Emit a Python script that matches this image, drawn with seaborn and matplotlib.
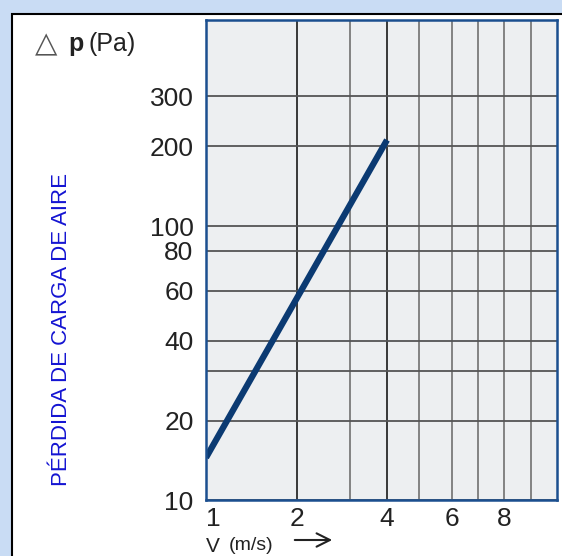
import numpy as np
import matplotlib
matplotlib.use("Agg")
import matplotlib.pyplot as plt
from matplotlib.patches import Rectangle, FancyArrowPatch
import seaborn as sns

# values
velocity = [1, 4]
pressure_drop = [14.5, 210]

x_ticks = [1, 2, 4, 6, 8]
x_minor = [3, 5, 7, 9]
y_ticks = [10, 20, 40, 60, 80, 100, 200, 300]
y_minor = [30]

# the chart paper is not a true log-log grid, so its rulings are mapped by hand
# (value -> pixels from the lower/left edge of the plot box)
x_rule_vals = [1, 2, 3, 4, 5, 6, 7, 8, 9, 10]
x_rule_pos = [0, 91, 144, 181, 213, 246, 272, 298, 325, 351]
y_rule_vals = [10, 20, 30, 40, 60, 80, 100, 200, 300, 500]
y_rule_pos = [0, 79, 129, 159, 209, 249, 274, 354, 404, 480]


def paper_scale(vals, pos):
    lv = np.log10(vals)

    def fwd(v):
        v = np.clip(np.asarray(v, dtype=float), 1e-9, None)
        return np.interp(np.log10(v), lv, pos)

    def inv(p):
        return 10 ** np.interp(np.asarray(p, dtype=float), pos, lv)

    return fwd, inv


sns.set_style("white")
plt.rcParams["font.family"] = ["Liberation Sans", "DejaVu Sans"]

W, H = 562, 556
fig = plt.figure(figsize=(W / 100, H / 100), dpi=100, facecolor="#c9dcf4")

# white card with black edge
fig.add_artist(Rectangle((12 / W, -0.1), 1.2, 1 - 14 / H + 0.1,
                         transform=fig.transFigure, facecolor="white",
                         edgecolor="black", lw=1.5, zorder=0))

ax = fig.add_axes([206 / W, 1 - 500 / H, 351 / W, 480 / H])
ax.set_facecolor("#edeff1")
ax.set_xscale("function", functions=paper_scale(x_rule_vals, x_rule_pos))
ax.set_yscale("function", functions=paper_scale(y_rule_vals, y_rule_pos))

sns.lineplot(x=velocity, y=pressure_drop, ax=ax, color="#0b3a72",
             linewidth=4.5, solid_capstyle="butt")

ax.set_xlim(1, 10)
ax.set_ylim(10, 500)
ax.set_xticks(x_ticks, [str(t) for t in x_ticks])
ax.set_xticks(x_minor, minor=True)
ax.set_yticks(y_ticks, [str(t) for t in y_ticks])
ax.set_yticks(y_minor, minor=True)
ax.set_xlabel("")
ax.set_ylabel("")

ax.set_axisbelow(True)
ax.grid(which="major", color="#555555", lw=1.3)
ax.grid(which="minor", color="#7a7a7a", lw=1.3)
ax.grid(which="minor", axis="y", color="#555555", lw=1.3)
for t, gl in zip(x_ticks, ax.xaxis.get_gridlines()):
    gl.set_color("#2a2a2a" if t in (2, 4) else "#7a7a7a")

ax.tick_params(which="both", length=0, labelsize=19, colors="#222222")
ax.tick_params(axis="y", pad=9)
ax.tick_params(axis="x", pad=5)
ax.get_xticklabels()[0].set_horizontalalignment("left")

for s in ax.spines.values():
    s.set_color("#1b4f8f")
    s.set_linewidth(1.8)

tr = fig.dpi_scale_trans


def at(x, y):
    return x / 100, (H - y) / 100


# axis captions
fig.text(*at(35, 52), "\u25b3", fontsize=21, family=["DejaVu Sans"],
         color="#555555", va="baseline", transform=tr)
fig.text(*at(68, 51), "p", fontsize=18, fontweight="bold", color="#222222",
         va="baseline", transform=tr)
fig.text(*at(89, 51), "(Pa)", fontsize=18, color="#222222",
         va="baseline", transform=tr)

fig.text(*at(62, 329), "PÉRDIDA DE CARGA DE AIRE", rotation=90,
         ha="center", va="center", color="#1414d2", fontsize=16,
         transform=tr)

fig.text(*at(206, 552), "V", fontsize=15, color="#222222",
         va="baseline", transform=tr)
fig.text(*at(229, 550), "(m/s)", fontsize=14, color="#222222",
         va="baseline", transform=tr)
fig.add_artist(FancyArrowPatch(at(292, 540), at(335, 540), transform=tr,
                               arrowstyle="->", mutation_scale=24, lw=1.5,
                               color="#222222"))

fig.savefig("out.png", dpi=100, facecolor=fig.get_facecolor())
